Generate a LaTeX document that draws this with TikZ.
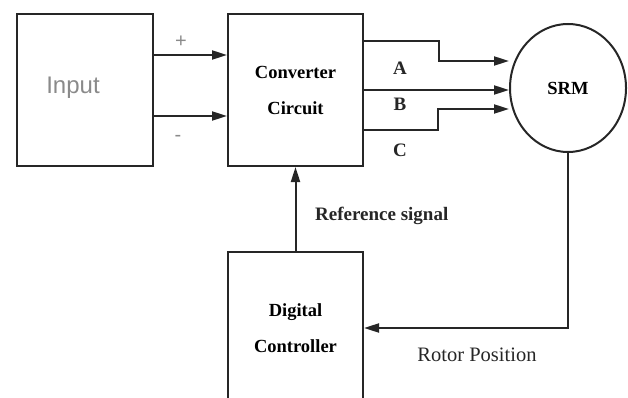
\documentclass[tikz,border=0pt]{standalone}
\usepackage{fontspec}
\setmainfont{Liberation Serif}
\newfontfamily\arialfont{Liberation Sans}
\usetikzlibrary{arrows.meta,shapes.geometric,calc}

\definecolor{linegray}{HTML}{262626}
\definecolor{softgray}{HTML}{8A8A8A}

\tikzset{
    blk/.style={draw=linegray, line width=2pt, minimum width=135pt, minimum height=152pt,
        align=center, font=\fontsize{18.5}{36}\selectfont\bfseries, inner sep=0pt},
    wire/.style={draw=linegray, line width=2pt, -{Triangle[length=15pt,width=9pt]}},
    lbl/.style={font=\fontsize{19}{22}\selectfont\bfseries, text=linegray, inner sep=0pt},
    sign/.style={font=\arialfont\fontsize{20}{22}\selectfont, text=softgray, inner sep=0pt}
}

\begin{document}
\begin{tikzpicture}[x=1pt, y=-1pt]
    \useasboundingbox (0,0) rectangle (628,398);
    \node[blk, minimum width=136pt] (input) at (85,90) {};
    \node[font=\arialfont\fontsize{24}{28}\selectfont, text=softgray] (inputtxt) at (73,88) {Input};
    \node[blk] (conv) at (295.5,90) {Converter\\Circuit};
    \node[blk, ellipse, minimum width=116pt, minimum height=128pt] (srm) at (568,88) {SRM};
    \node[blk] (ctrl) at (295.5,328) {Digital\\Controller};
    \draw[wire] ([yshift=-42pt]input.north east) -- ([yshift=-42pt]conv.north west);
    \draw[wire] ([yshift=-103pt]input.north east) -- ([yshift=-103pt]conv.north west);
    \draw[wire] ([yshift=-28pt]conv.north east) -- ++(75,0) -- ++(0,20) coordinate (abend)
        -- (abend -| srm.west);
    \draw[wire] (conv.east) -- (conv.east -| srm.west);
    \draw[wire] ([yshift=-117pt]conv.north east) -- ++(74,0) -- ++(0,-21) coordinate (cbend)
        -- (cbend -| srm.west);
    \draw[wire] (ctrl.north) -- (conv.south);
    \draw[wire] (srm.south) |- (ctrl.east);
    \node[sign] (plus) at (181,42) {+};
    \node[sign] (minus) at (178,138) {-};
    \node[lbl] (phA) at (400,68) {A};
    \node[lbl] (phB) at (400,104) {B};
    \node[lbl] (phC) at (400,150) {C};
    \node[lbl, anchor=west] (refsig) at (315,216) {Reference signal};
    \node[lbl, font=\fontsize{20.5}{22}\selectfont] (rotpos) at (477,355) {Rotor Position};
\end{tikzpicture}
\end{document}
